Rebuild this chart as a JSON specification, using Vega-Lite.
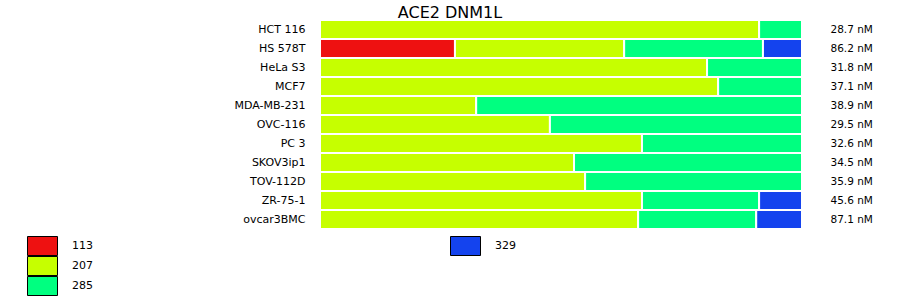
{
  "$schema": "https://vega.github.io/schema/vega-lite/v6.json",
  "autosize": "none",
  "width": 482,
  "height": 209,
  "padding": {"left": 320, "top": 20, "right": 98, "bottom": 70},
  "background": "white",
  "config": {"view": {"stroke": null}, "font": "DejaVu Sans"},
  "title": {"text": "ACE2 DNM1L", "font": "DejaVu Sans", "fontSize": 16, "fontWeight": "normal", "color": "black", "anchor": "middle", "frame": "group", "dx": -111, "offset": -2},
  "data": {"values": [
    {"cell": "HCT 116", "cluster": "207", "share": 91.1, "ic50": "28.7 nM"},
    {"cell": "HCT 116", "cluster": "285", "share": 8.9, "ic50": "28.7 nM"},
    {"cell": "HS 578T", "cluster": "113", "share": 28.0, "ic50": "86.2 nM"},
    {"cell": "HS 578T", "cluster": "207", "share": 35.1, "ic50": "86.2 nM"},
    {"cell": "HS 578T", "cluster": "285", "share": 28.8, "ic50": "86.2 nM"},
    {"cell": "HS 578T", "cluster": "329", "share": 8.1, "ic50": "86.2 nM"},
    {"cell": "HeLa S3", "cluster": "207", "share": 80.3, "ic50": "31.8 nM"},
    {"cell": "HeLa S3", "cluster": "285", "share": 19.7, "ic50": "31.8 nM"},
    {"cell": "MCF7", "cluster": "207", "share": 82.6, "ic50": "37.1 nM"},
    {"cell": "MCF7", "cluster": "285", "share": 17.4, "ic50": "37.1 nM"},
    {"cell": "MDA-MB-231", "cluster": "207", "share": 32.4, "ic50": "38.9 nM"},
    {"cell": "MDA-MB-231", "cluster": "285", "share": 67.6, "ic50": "38.9 nM"},
    {"cell": "OVC-116", "cluster": "207", "share": 47.7, "ic50": "29.5 nM"},
    {"cell": "OVC-116", "cluster": "285", "share": 52.3, "ic50": "29.5 nM"},
    {"cell": "PC 3", "cluster": "207", "share": 66.8, "ic50": "32.6 nM"},
    {"cell": "PC 3", "cluster": "285", "share": 33.2, "ic50": "32.6 nM"},
    {"cell": "SKOV3ip1", "cluster": "207", "share": 52.7, "ic50": "34.5 nM"},
    {"cell": "SKOV3ip1", "cluster": "285", "share": 47.3, "ic50": "34.5 nM"},
    {"cell": "TOV-112D", "cluster": "207", "share": 55.0, "ic50": "35.9 nM"},
    {"cell": "TOV-112D", "cluster": "285", "share": 45.0, "ic50": "35.9 nM"},
    {"cell": "ZR-75-1", "cluster": "207", "share": 66.8, "ic50": "45.6 nM"},
    {"cell": "ZR-75-1", "cluster": "285", "share": 24.3, "ic50": "45.6 nM"},
    {"cell": "ZR-75-1", "cluster": "329", "share": 8.9, "ic50": "45.6 nM"},
    {"cell": "ovcar3BMC", "cluster": "207", "share": 66.0, "ic50": "87.1 nM"},
    {"cell": "ovcar3BMC", "cluster": "285", "share": 24.5, "ic50": "87.1 nM"},
    {"cell": "ovcar3BMC", "cluster": "329", "share": 9.5, "ic50": "87.1 nM"}
  ]},
  "transform": [
    {"stack": "share", "groupby": ["cell"], "offset": "normalize", "sort": [{"field": "cluster", "order": "ascending"}], "as": ["x0", "x1"]}
  ],
  "layer": [
    {
      "encoding": {
        "y": {"field": "cell", "type": "nominal", "sort": null, "scale": {"paddingInner": 0, "paddingOuter": 0},
          "axis": {"title": null, "domain": false, "ticks": false, "labelPadding": 15, "labelFontSize": 11, "labelFont": "DejaVu Sans", "labelColor": "black"}}
      },
      "layer": [
        {
          "transform": [{"filter": "datum.cluster != '329'"}],
          "mark": {"type": "bar", "stroke": "white", "strokeWidth": 2, "opacity": 1},
          "encoding": {
            "x": {"field": "x0", "type": "quantitative", "scale": {"domain": [0, 1], "nice": false, "zero": false}, "axis": null},
            "x2": {"field": "x1"},
            "color": {"field": "cluster", "type": "nominal",
              "scale": {"domain": ["113", "207", "285"], "range": ["#ee1111", "#c6ff00", "#00ff80"]},
              "legend": {"title": null, "orient": "none", "legendX": -293, "legendY": 216, "padding": 0, "rowPadding": 0, "clipHeight": 20,
                "symbolType": "M-1.5,-0.95H1.5V0.95H-1.5Z", "symbolSize": 400, "symbolOffset": 5, "symbolStrokeColor": "black", "symbolStrokeWidth": 1, "symbolOpacity": 1,
                "labelOffset": 19, "labelFontSize": 11, "labelFont": "DejaVu Sans", "labelColor": "black",
                "encode": {"symbols": {"update": {"stroke": {"value": "black"}, "strokeWidth": {"value": 1}, "opacity": {"value": 1}, "fillOpacity": {"value": 1}}}}}
            }
          }
        },
        {
          "transform": [{"filter": "datum.cluster == '329'"}],
          "mark": {"type": "bar", "stroke": "white", "strokeWidth": 2, "opacity": 1},
          "encoding": {
            "x": {"field": "x0", "type": "quantitative", "scale": {"domain": [0, 1], "nice": false, "zero": false}, "axis": null},
            "x2": {"field": "x1"},
            "fill": {"field": "cluster", "type": "nominal",
              "scale": {"domain": ["329"], "range": ["#1443ee"]},
              "legend": {"title": null, "orient": "none", "legendX": 130, "legendY": 216, "padding": 0, "rowPadding": 0, "clipHeight": 20,
                "symbolType": "M-1.5,-0.95H1.5V0.95H-1.5Z", "symbolSize": 400, "symbolOffset": 5, "symbolStrokeColor": "black", "symbolStrokeWidth": 1, "symbolOpacity": 1,
                "labelOffset": 19, "labelFontSize": 11, "labelFont": "DejaVu Sans", "labelColor": "black",
                "encode": {"symbols": {"update": {"stroke": {"value": "black"}, "strokeWidth": {"value": 1}, "opacity": {"value": 1}, "fillOpacity": {"value": 1}}}}}
            }
          }
        }
      ]
    },
    {
      "mark": {"type": "text", "text": ""},
      "encoding": {
        "y": {"field": "ic50", "type": "nominal", "sort": null, "scale": {"paddingInner": 0, "paddingOuter": 0},
          "axis": {"orient": "right", "title": null, "domain": false, "ticks": false, "labelPadding": 28, "labelFontSize": 10.5, "labelFont": "DejaVu Sans", "labelColor": "black", "labelAlign": "left"}}
      }
    }
  ],
  "resolve": {"scale": {"y": "independent"}, "axis": {"y": "independent"}}
}
